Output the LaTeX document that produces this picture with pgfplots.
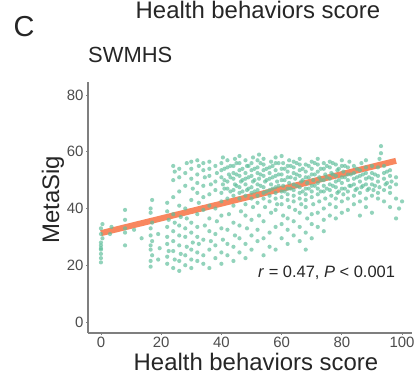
\documentclass[border=0pt]{standalone}
\usepackage{fontspec}
\setmainfont{Liberation Sans}
\usepackage{pgfplots}
\pgfplotsset{compat=1.18}
\definecolor{ptgreen}{HTML}{5FBF9C}
\definecolor{lnorange}{HTML}{F8875F}
\definecolor{axgray}{HTML}{7F7F7F}
\definecolor{tkgray}{HTML}{4D4D4D}
\begin{document}
\begin{tikzpicture}[x=1bp,y=1bp]
\useasboundingbox (0,0) rectangle (416,379);
\clip (0,0) rectangle (416,379);
\fill[white] (0,0) rectangle (416,379);
\node[anchor=base,font=\fontsize{24}{28}\selectfont,text=black!85] at (258,360.5) {Health behaviors score};
\node[anchor=base,font=\fontsize{29}{34}\selectfont,text=black!85] at (24,343) {C};
\node[anchor=base west,inner sep=0pt,font=\fontsize{22}{26}\selectfont,text=black!85] at (88,317) {SWMHS};
\node[rotate=90,font=\fontsize{24}{28}\selectfont,text=black!85] at (53,179) {MetaSig};
\node[font=\fontsize{24}{28}\selectfont,text=black!85] at (256,17) {Health behaviors score};
\begin{axis}[
  at={(88bp,46bp)}, anchor=south west,
  scale only axis, width=324bp, height=251bp,
  xmin=-4.3, xmax=103.3, ymin=-3.9, ymax=84.6,
  axis x line*=bottom, axis y line*=left,
  axis line style={axgray, line width=1.3bp},
  xtick={0,20,40,60,80,100}, ytick={0,20,40,60,80},
  tick align=outside, major tick length=2bp,
  tick style={axgray, line width=0.8bp},
  /pgf/number format/assume math mode=true,
  ticklabel style={font=\fontsize{15}{18}\selectfont, text=tkgray},
  xticklabel style={yshift=1bp},
  yticklabel style={xshift=1bp},
  clip=false,
]
\addplot[only marks, mark=*, color=ptgreen, mark size=2.1bp, mark options={draw opacity=0, fill opacity=0.68}] coordinates {
(0,21)(0,22.5)(0,24)(0,25.5)(0,27)(0,28)(0.5,29.5)(0,31)(0,33)(0.5,34.5)(0,26)
(3,31)(3.5,33.5)
(8,27)(8,31.5)(8,36)(8,39.5)(8,33)
(11,32.5)(13.5,29.5)
(16.5,19.5)(16.5,21.5)(17,23.5)(16.5,25.5)(16.5,27)(17,28.5)(16.5,30.5)(16.5,33)(17,35)(16.5,38.5)(16.5,40)(17,43)
(19,22)(19.5,26)(19,31)
(22,20.5)(22,23)(22.5,25)(22,27.5)(22,30)(22,33.5)(22.5,36)(22,39)(22,42)
(24,19)(24.5,22)(24,25)(24,28.5)(24,32)(24.5,35)(24,38)(24,44)(24,50)(24.5,53)(24,55)
(26,18)(26,21.5)(26.5,24)(26,27)(26,30.5)(26,34)(26.5,37)(26,41)(26,46)(26,51)(26,54)
(28,20)(28,23.5)(28.5,26.5)(28,30)(28,33)(28.5,36.5)(28,40)(28,48)(28,52.5)(28.5,56)
(30,19)(30,22)(30,25.5)(30.5,28)(30,31.5)(30,35)(30,43)(30.5,47)(30,50.5)(30,54)(30,56.5)
(32,21.5)(32,24.5)(32.5,27.5)(32,30)(32,33.5)(32,38)(32.5,42)(32,45.5)(32,49)(32,52)(32.5,55)(32,57)
(34,20.5)(34,23.5)(34,29)(34.5,34)(34,39.5)(34,44)(34,48)(34.5,51)(34,53.5)(34,56)
(36,19)(36,25.5)(36.5,28.5)(36,32)(36,36.5)(36,41)(36,45)(36.5,48.5)(36,51.5)(36,54)(36,56.5)
(38,22.5)(38,27)(38,31)(38.5,35.5)(38,40)(38,46.5)(38,49.5)(38.5,52.5)(38,55)
(40,20.5)(40,24.5)(40.5,29)(40,33)(40,37.5)(40,42.5)(40,45.5)(40.5,48.5)(40,51)(40,53.5)(40,56)(40.5,58)
(42,23.5)(42,27.5)(42,32.5)(42.5,38)(42,43.5)(42,47)(42,49.5)(42.5,52)(42,54.5)(42,57)
(44,21.5)(44,26.5)(44.5,30.5)(44,35)(44,41)(44,44.5)(44,46.5)(44.5,48.5)(44,50.5)(44,52.5)(44,55)(44.5,57.5)
(46,24.5)(46,29.5)(46,34)(46.5,39)(46,43.5)(46,45.5)(46,47.5)(46.5,49.5)(46,51.5)(46,53.5)(46,56)(46,58.5)
(48,22.5)(48,27.5)(48.5,33)(48,37.5)(48,41.5)(48,44.5)(48.5,46.5)(48,48.5)(48,50.5)(48,52.5)(48.5,55)(48,57)
(50,25.5)(50,30.5)(50,36)(50.5,40.5)(50,43.5)(50,45.5)(50,47.5)(50.5,49.5)(50,51.5)(50,53.5)(50,56)(50.5,58)
(52,28.5)(52,32.5)(52.5,37.5)(52,42)(52,44.5)(52,46.5)(52,48.5)(52.5,50.5)(52,52.5)(52,54.5)(52,57)(52.5,59)
(54,23.5)(54,29.5)(54,35.5)(54.5,40.5)(54,43.5)(54,45.5)(54,47.5)(54.5,49.5)(54,51.5)(54,53.5)(54,55.5)(54,57.5)
(56,26.5)(56,31.5)(56.5,38.5)(56,42.5)(56,44.5)(56,46.5)(56.5,48.5)(56,50.5)(56,52.5)(56,54.5)(56.5,56.5)
(58,25.5)(58,33.5)(58,39.5)(58.5,41.5)(58,43.5)(58,45.5)(58,47.5)(58.5,49.5)(58,51.5)(58,53.5)(58,56)(58,58)
(60,29.5)(60,34.5)(60.5,37.5)(60,41.5)(60,44)(60,46)(60.5,48)(60,50)(60,52)(60,54)(60.5,56)(60,58.5)
(62,27.5)(62,32.5)(62,36.5)(62.5,40.5)(62,43)(62,45)(62,47)(62.5,49)(62,51)(62,53)(62,55)(62.5,57)
(64,30.5)(64,35.5)(64.5,39.5)(64,42.5)(64,44.5)(64,46.5)(64,48.5)(64.5,50.5)(64,52.5)(64,54.5)(64,56.5)
(66,28.5)(66,33.5)(66,38.5)(66.5,41.5)(66,43.5)(66,45.5)(66,47.5)(66.5,49.5)(66,51.5)(66,53.5)(66,55.5)(66,57.5)
(68,25.5)(68,31.5)(68.5,36.5)(68,40.5)(68,43)(68,45)(68,47)(68.5,49)(68,51)(68,53)(68,55.5)
(70,29.5)(70,34.5)(70,38)(70.5,41.5)(70,44)(70,46)(70,48)(70.5,50)(70,52)(70,54)(70,56.5)
(72,33.5)(72,38.5)(72.5,42.5)(72,45)(72,47)(72,49)(72.5,51)(72,53)(72,55.5)(72,57.5)
(74,32)(74,36)(74,40)(74.5,43.5)(74,46)(74,48)(74,50)(74.5,52)(74,54)(74,56)
(76,37.5)(76,41.5)(76.5,44.5)(76,46.5)(76,48.5)(76,50.5)(76.5,52.5)(76,54.5)(76,56.5)
(78,36.5)(78,40.5)(78,43.5)(78.5,45.5)(78,47.5)(78,49.5)(78,51.5)(78.5,53.5)(78,55.5)
(80,38.5)(80,42.5)(80.5,45)(80,47)(80,49)(80,51)(80.5,53)(80,55)(80,57)
(82,39.5)(82,43.5)(82,46)(82.5,48)(82,50)(82,52)(82,54.5)(82.5,56.5)
(84,41.5)(84,44.5)(84.5,46.5)(84,48.5)(84,50.5)(84,52.5)(84,55)
(86,37.5)(86,42.5)(86,45.5)(86.5,47.5)(86,49.5)(86,51.5)(86,53.5)(86.5,56)
(88,40.5)(88,43.5)(88.5,46.5)(88,48.5)(88,50.5)(88,52.5)(88,54.5)(88,57)
(90,38.5)(90,44.5)(90.5,46.5)(90,48.5)(90,50.5)(90,52.5)(90,55)
(92,43.5)(92,45.5)(92.5,47.5)(92,49.5)(92,51.5)(92,54.5)(92.5,57.5)(93,62)(93,59.5)
(94,42.5)(94,46.5)(94.5,48.5)(94,50.5)(94,52.5)(94,55)
(96,40.5)(96,45.5)(96,47.5)(96.5,49.5)(96,51.5)(96,53.5)
(98,36.5)(98,43.5)(98,48.5)(98,51)
(100,42.5)(99,40)
(41,47)(41,50)(41,54)(43,46)(43,51)(43,55)(45,48)(45,52)(45,56)(47,46)(47,50)(47,54)
(49,47)(49,51)(49,55)(51,46)(51,50)(51,54)(53,48)(53,52)(53,56)(55,46)(55,50)(55,54)
(57,47)(57,51)(57,55)(59,48)(59,52)(59,56)(61,46)(61,50)(61,54)(63,47)(63,51)(63,55)
(65,48)(65,52)(65,56)(67,46)(67,50)(67,54)(69,47)(69,51)(69,55)(71,48)(71,52)(71,56)
(73,46)(73,50)(73,54)(75,47)(75,51)(75,55)(77,48)(77,52)(77,56)(79,46)(79,50)(79,54)
(81,47)(81,51)(81,55)(83,48)(83,52)(85,47)(85,51)(85,54)(87,48)(87,52)(89,47)(89,51)
(91,48)(91,52)(95,49)(95,53)
};
\addplot[lnorange, line width=6bp, line cap=butt] coordinates {(0,31.3)(98,56.8)};
\node[anchor=base east, inner sep=0pt, font=\fontsize{16.5}{19}\selectfont, text=black!85] at (axis cs:97.7,15.8) {\textit{r} = 0.47, \textit{P} < 0.001};
\end{axis}
\end{tikzpicture}
\end{document}
